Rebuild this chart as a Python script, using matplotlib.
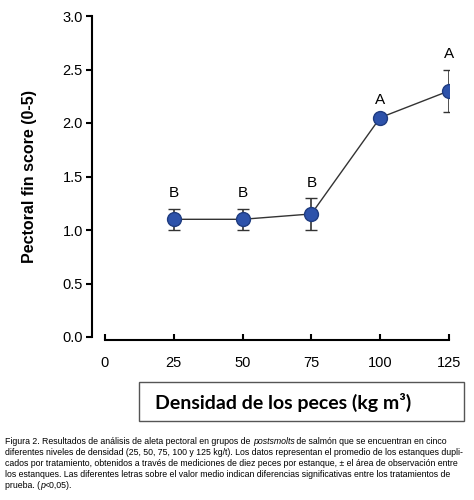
import matplotlib
matplotlib.use('Agg')
import matplotlib.pyplot as plt
from matplotlib import font_manager as fm
from matplotlib.patches import Rectangle

density = [25, 50, 75, 100, 125]
score = [1.1, 1.1, 1.15, 2.05, 2.3]
err = [0.1, 0.1, 0.15, 0.02, 0.2]
letters = ['B', 'B', 'B', 'A', 'A']
xticks = [0, 25, 50, 75, 100, 125]
yticks = [0.0, 0.5, 1.0, 1.5, 2.0, 2.5, 3.0]

caption = [
    [('Figura 2. Resultados de análisis de aleta pectoral en grupos de ', 'normal'),
     ('postsmolts', 'italic'),
     (' de salmón que se encuentran en cinco', 'normal')],
    [('diferentes niveles de densidad (25, 50, 75, 100 y 125 kg/t). Los datos representan el promedio de los estanques dupli-', 'normal')],
    [('cados por tratamiento, obtenidos a través de mediciones de diez peces por estanque, ± el área de observación entre', 'normal')],
    [('los estanques. Las diferentes letras sobre el valor medio indican diferencias significativas entre los tratamientos de', 'normal')],
    [('prueba. (', 'normal'), ('p', 'italic'), ('<0,05).', 'normal')],
]

names = set(f.name for f in fm.fontManager.ttflist)
narrow = 'Liberation Sans Narrow' if 'Liberation Sans Narrow' in names else 'Liberation Sans'

plt.rcParams['font.family'] = ['Liberation Sans', 'DejaVu Sans']

fig = plt.figure(figsize=(4.74, 5), dpi=100)
ax = fig.add_axes([0.2215, 0.326, 0.7257, 0.642])

ax.errorbar(density, score, yerr=err, color='#333333', lw=1.0, elinewidth=1.2,
            capsize=4, capthick=1.2, marker='o', ms=10, mfc='#2d52aa',
            mec='#1f3c80', mew=1, zorder=3)
for x, y, e, l in zip(density, score, err, letters):
    ax.annotate(l, (x, y + e), xytext=(0, 6), textcoords='offset points',
                ha='center', va='bottom', fontsize=11)

ax.set_xlim(0, 125)
ax.set_ylim(0, 3.0)
ax.set_xticks(xticks)
ax.set_yticks(yticks)
ax.set_yticklabels(['%.1f' % v for v in yticks])
ax.tick_params(axis='x', direction='in', length=4, width=1.5, labelsize=10.5, pad=12)
ax.tick_params(axis='y', direction='out', length=4, width=1.5, labelsize=10.5, pad=3)
for t in ax.get_xticklabels() + ax.get_yticklabels():
    t.set_fontweight('bold')
ax.spines['top'].set_visible(False)
ax.spines['right'].set_visible(False)
ax.spines['left'].set_position(('outward', 9))
ax.spines['bottom'].set_position(('outward', 2))
ax.spines['left'].set_linewidth(1.5)
ax.spines['bottom'].set_linewidth(1.5)
ax.set_ylabel('Pectoral fin score (0-5)', fontsize=11.5, fontweight='bold', labelpad=18)

# x label in a box
fig.patches.append(Rectangle((139 / 474, 1 - 421 / 500), 325 / 474, 39 / 500,
                             transform=fig.transFigure, fill=False, ec='#555555', lw=1))
fig.text(283 / 474, 1 - 402 / 500, 'Densidad de los peces (kg m³)', ha='center', va='center',
         fontsize=14, fontweight='bold', family=['Lato', 'DejaVu Sans'])

# caption, font size fitted so the longest line spans the page width
renderer = fig.canvas.get_renderer()
probe = fig.text(0, 0, caption[1][0][0], fontsize=10, family=[narrow, 'DejaVu Sans'])
w10 = probe.get_window_extent(renderer).width
probe.remove()
cap_size = 10 * 458 / w10

ys = [444, 455, 466, 477, 488]
for parts, yy in zip(caption, ys):
    xpix = 5
    for txt, st in parts:
        t = fig.text(xpix / 474, 1 - yy / 500, txt, ha='left', va='baseline', style=st,
                     fontsize=cap_size, family=[narrow, 'DejaVu Sans'], color='black')
        xpix += t.get_window_extent(renderer).width

fig.savefig('out.png', dpi=100)
